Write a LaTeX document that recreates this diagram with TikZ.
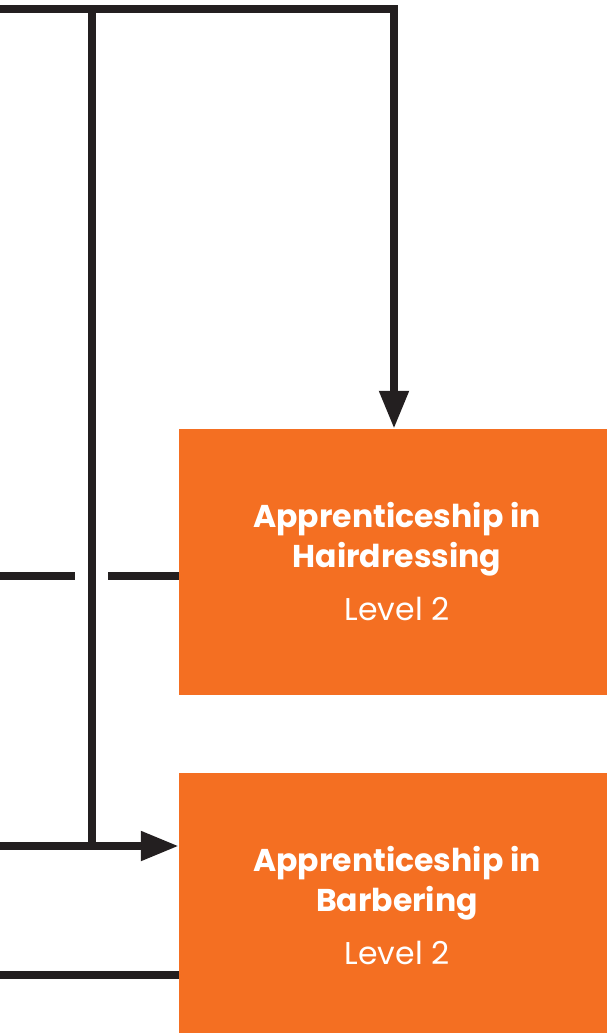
\documentclass[tikz,border=0pt]{standalone}
\usepackage{fontspec}
\setmainfont{Poppins}
\usetikzlibrary{arrows.meta}
\definecolor{boxorange}{HTML}{F46F22}
\definecolor{linedark}{HTML}{231F20}
\begin{document}
\begin{tikzpicture}[x=1pt,y=-1pt,
  conn/.style={draw=linedark,line width=8pt,line join=miter},
  arr/.style={conn,-{Triangle[length=38pt,width=28pt]}},
  cbox/.style={fill=boxorange,text=white,minimum width=436pt,minimum height=266pt,
    inner sep=0pt,align=center,font=\fontsize{31.5}{40}\selectfont}]
\useasboundingbox (0,0) rectangle (606,1033);
\node[cbox] (hair) at (397,562) {\textbf{Apprenticeship in}\\\textbf{Hairdressing}\\[13pt]Level 2};
\node[cbox] (barb) at (397,906) {\textbf{Apprenticeship in}\\\textbf{Barbering}\\[13pt]Level 2};
\coordinate (tl) at (-10,9);
\coordinate (tv) at (92,9);
\coordinate (tr) at (394,9);
\coordinate (vb) at (92,846);
\coordinate (ml) at (-10,575.5);
\coordinate (mg1) at (75,575.5);
\coordinate (mg2) at (108,575.5);
\coordinate (al) at (-10,846);
\coordinate (bl) at (-10,975);
\draw[arr] (tl) -- (tr) -- (hair.north -| tr);
\draw[conn] (tv) -- (vb);
\draw[conn] (ml) -- (mg1);
\draw[conn] (mg2) -- (mg2 -| hair.west);
\draw[arr] (al) -- (al -| barb.west);
\draw[conn] (bl) -- (bl -| barb.west);
\end{tikzpicture}
\end{document}
